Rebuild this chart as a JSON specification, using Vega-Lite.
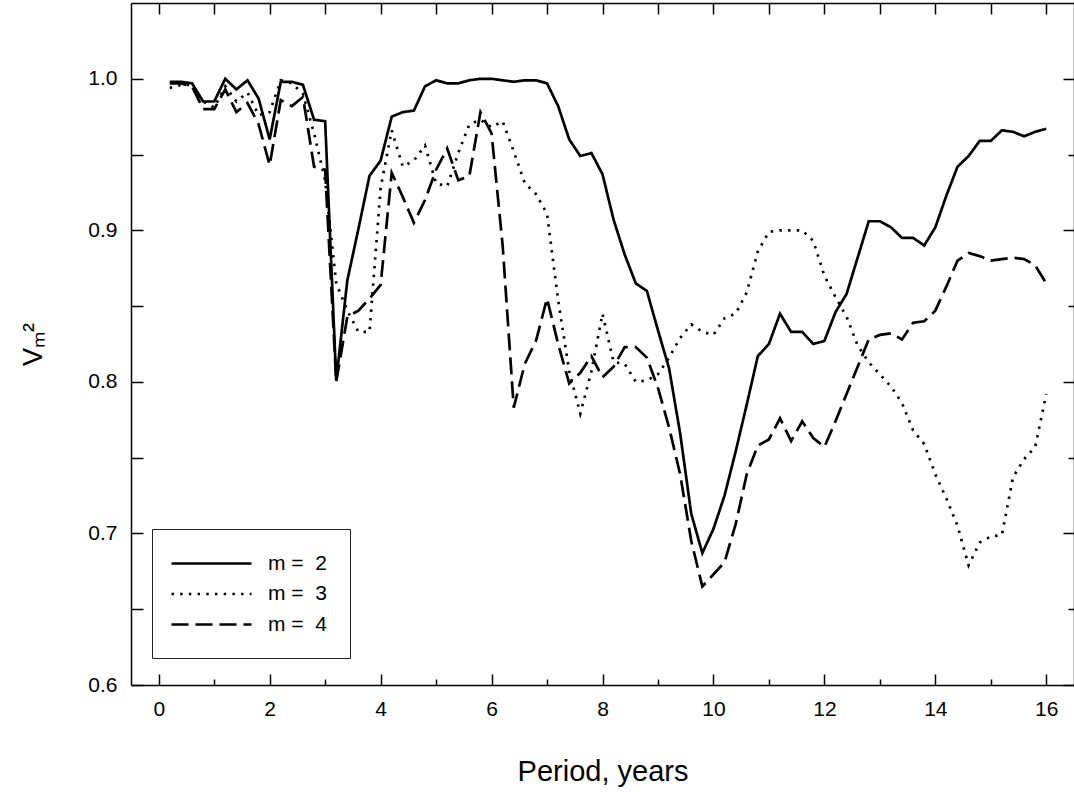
{
  "$schema": "https://vega.github.io/schema/vega-lite/v6.json",
  "autosize": {"type": "none"},
  "padding": {"left": 131, "top": 3, "right": 0, "bottom": 107},
  "width": 943,
  "height": 682,
  "background": "white",
  "config": {
    "view": {"stroke": null},
    "font": "Liberation Sans",
    "axis": {"grid": false, "domainColor": "black", "domainWidth": 1.5, "tickColor": "black", "tickWidth": 1.5, "labelColor": "black", "titleColor": "black", "labelFont": "Liberation Sans", "titleFont": "Liberation Sans", "titleFontWeight": "normal"}
  },
  "data": {"values": [
    {"p":0.2,"m2":0.998,"m3":0.994,"m4":0.997},
    {"p":0.4,"m2":0.998,"m3":0.996,"m4":0.997},
    {"p":0.6,"m2":0.997,"m3":0.996,"m4":0.995},
    {"p":0.8,"m2":0.985,"m3":0.985,"m4":0.980},
    {"p":1.0,"m2":0.985,"m3":0.981,"m4":0.980},
    {"p":1.2,"m2":1.000,"m3":0.995,"m4":0.993},
    {"p":1.4,"m2":0.993,"m3":0.985,"m4":0.978},
    {"p":1.6,"m2":0.999,"m3":0.991,"m4":0.984},
    {"p":1.8,"m2":0.987,"m3":0.976,"m4":0.970},
    {"p":2.0,"m2":0.960,"m3":0.978,"m4":0.943},
    {"p":2.2,"m2":0.998,"m3":0.999,"m4":0.986},
    {"p":2.4,"m2":0.998,"m3":0.997,"m4":0.982},
    {"p":2.6,"m2":0.996,"m3":0.990,"m4":0.988},
    {"p":2.8,"m2":0.973,"m3":0.964,"m4":0.942},
    {"p":3.0,"m2":0.972,"m3":0.933,"m4":0.940},
    {"p":3.2,"m2":0.801,"m3":0.865,"m4":0.800},
    {"p":3.4,"m2":0.867,"m3":0.847,"m4":0.843},
    {"p":3.6,"m2":0.901,"m3":0.833,"m4":0.847},
    {"p":3.8,"m2":0.936,"m3":0.833,"m4":0.855},
    {"p":4.0,"m2":0.946,"m3":0.928,"m4":0.864},
    {"p":4.2,"m2":0.975,"m3":0.966,"m4":0.938},
    {"p":4.4,"m2":0.978,"m3":0.942,"m4":0.922},
    {"p":4.6,"m2":0.979,"m3":0.946,"m4":0.905},
    {"p":4.8,"m2":0.995,"m3":0.956,"m4":0.920},
    {"p":5.0,"m2":0.999,"m3":0.931,"m4":0.940},
    {"p":5.2,"m2":0.997,"m3":0.929,"m4":0.954},
    {"p":5.4,"m2":0.997,"m3":0.951,"m4":0.933},
    {"p":5.6,"m2":0.999,"m3":0.970,"m4":0.936},
    {"p":5.8,"m2":1.000,"m3":0.973,"m4":0.978},
    {"p":6.0,"m2":1.000,"m3":0.968,"m4":0.964},
    {"p":6.2,"m2":0.999,"m3":0.972,"m4":0.890},
    {"p":6.4,"m2":0.998,"m3":0.952,"m4":0.783},
    {"p":6.6,"m2":0.999,"m3":0.931,"m4":0.812},
    {"p":6.8,"m2":0.999,"m3":0.924,"m4":0.827},
    {"p":7.0,"m2":0.997,"m3":0.911,"m4":0.855},
    {"p":7.2,"m2":0.982,"m3":0.854,"m4":0.825},
    {"p":7.4,"m2":0.960,"m3":0.807,"m4":0.799},
    {"p":7.6,"m2":0.949,"m3":0.779,"m4":0.806},
    {"p":7.8,"m2":0.951,"m3":0.807,"m4":0.817},
    {"p":8.0,"m2":0.937,"m3":0.845,"m4":0.803},
    {"p":8.2,"m2":0.907,"m3":0.813,"m4":0.810},
    {"p":8.4,"m2":0.884,"m3":0.812,"m4":0.823},
    {"p":8.6,"m2":0.865,"m3":0.800,"m4":0.823},
    {"p":8.8,"m2":0.860,"m3":0.801,"m4":0.816},
    {"p":9.0,"m2":0.834,"m3":0.805,"m4":0.796},
    {"p":9.2,"m2":0.809,"m3":0.816,"m4":0.770},
    {"p":9.4,"m2":0.766,"m3":0.829,"m4":0.739},
    {"p":9.6,"m2":0.713,"m3":0.838,"m4":0.695},
    {"p":9.8,"m2":0.687,"m3":0.833,"m4":0.665},
    {"p":10.0,"m2":0.703,"m3":0.831,"m4":0.673},
    {"p":10.2,"m2":0.725,"m3":0.842,"m4":0.681},
    {"p":10.4,"m2":0.754,"m3":0.845,"m4":0.706},
    {"p":10.6,"m2":0.785,"m3":0.859,"m4":0.739},
    {"p":10.8,"m2":0.817,"m3":0.886,"m4":0.758},
    {"p":11.0,"m2":0.825,"m3":0.899,"m4":0.762},
    {"p":11.2,"m2":0.845,"m3":0.900,"m4":0.776},
    {"p":11.4,"m2":0.833,"m3":0.900,"m4":0.761},
    {"p":11.6,"m2":0.833,"m3":0.900,"m4":0.774},
    {"p":11.8,"m2":0.825,"m3":0.893,"m4":0.763},
    {"p":12.0,"m2":0.827,"m3":0.870,"m4":0.757},
    {"p":12.2,"m2":0.846,"m3":0.856,"m4":0.774},
    {"p":12.4,"m2":0.858,"m3":0.843,"m4":0.792},
    {"p":12.6,"m2":0.882,"m3":0.824,"m4":0.810},
    {"p":12.8,"m2":0.906,"m3":0.813,"m4":0.828},
    {"p":13.0,"m2":0.906,"m3":0.805,"m4":0.831},
    {"p":13.2,"m2":0.902,"m3":0.797,"m4":0.832},
    {"p":13.4,"m2":0.895,"m3":0.786,"m4":0.828},
    {"p":13.6,"m2":0.895,"m3":0.768,"m4":0.839},
    {"p":13.8,"m2":0.890,"m3":0.759,"m4":0.840},
    {"p":14.0,"m2":0.902,"m3":0.739,"m4":0.847},
    {"p":14.2,"m2":0.923,"m3":0.723,"m4":0.863},
    {"p":14.4,"m2":0.942,"m3":0.705,"m4":0.880},
    {"p":14.6,"m2":0.949,"m3":0.679,"m4":0.885},
    {"p":14.8,"m2":0.959,"m3":0.694,"m4":0.883},
    {"p":15.0,"m2":0.959,"m3":0.698,"m4":0.880},
    {"p":15.2,"m2":0.966,"m3":0.699,"m4":0.881},
    {"p":15.4,"m2":0.965,"m3":0.737,"m4":0.882},
    {"p":15.6,"m2":0.962,"m3":0.749,"m4":0.881},
    {"p":15.8,"m2":0.965,"m3":0.757,"m4":0.877},
    {"p":16.0,"m2":0.967,"m3":0.792,"m4":0.865}
  ]},
  "transform": [{"fold": ["m2", "m3", "m4"], "as": ["series", "v"]}],
  "layer": [
    {
      "mark": {"type": "line", "color": "black", "strokeWidth": 2.7, "strokeCap": "butt", "strokeJoin": "miter"},
      "encoding": {
        "x": {"field": "p", "type": "quantitative", "scale": {"domain": [-0.5, 16.5], "nice": false, "zero": false},
          "axis": {"orient": "bottom", "values": [0,1,2,3,4,5,6,7,8,9,10,11,12,13,14,15,16], "labelExpr": "datum.value % 2 === 0 ? datum.label : ''",
            "tickSize": {"condition": {"test": "datum.value % 2 !== 0", "value": -6}, "value": -11},
            "labelFontSize": 21, "labelPadding": 24, "title": "Period, years", "titleFontSize": 29, "titlePadding": 38}},
        "y": {"field": "v", "type": "quantitative", "scale": {"domain": [0.6, 1.05], "nice": false, "zero": false},
          "axis": {"orient": "left", "values": [0.6,0.65,0.7,0.75,0.8,0.85,0.9,0.95,1.0], "labelExpr": "abs(datum.value*10 - round(datum.value*10)) < 0.001 ? format(datum.value, '.1f') : ''",
            "tickSize": -12, "labelFontSize": 21, "labelPadding": 26, "title": "Vₘ²", "titleFontSize": 27, "titlePadding": 40}},
        "strokeDash": {"field": "series", "type": "nominal",
          "scale": {"domain": ["m2", "m3", "m4"], "range": [[1, 0], [2.4, 6.3], [17, 7]]},
          "legend": {"title": null, "orient": "none", "legendX": 21, "legendY": 526, "strokeColor": "#222", "fillColor": "white",
            "padding": 23, "labelFontSize": 21, "labelFont": "Liberation Sans", "labelColor": "black", "labelExpr": "'m = \u00a0' + slice(datum.label, 1)",
            "symbolType": "M-1.5,0H6.5", "symbolSize": 400, "symbolStrokeWidth": 2.7, "symbolStrokeColor": "black", "labelOffset": 70, "rowPadding": 8.5}}
      }
    },
    {
      "mark": {"type": "line", "color": "black", "strokeOpacity": 0},
      "encoding": {
        "x": {"field": "p", "type": "quantitative", "scale": {"domain": [-0.5, 16.5], "nice": false, "zero": false},
          "axis": {"orient": "top", "values": [0,1,2,3,4,5,6,7,8,9,10,11,12,13,14,15,16], "labels": false, "title": null, "tickSize": -11}},
        "y": {"field": "v", "type": "quantitative", "scale": {"domain": [0.6, 1.05], "nice": false, "zero": false},
          "axis": {"orient": "right", "values": [0.6,0.65,0.7,0.75,0.8,0.85,0.9,0.95,1.0], "labels": false, "title": null,
            "tickSize": {"condition": {"test": "abs(datum.value*10 - round(datum.value*10)) > 0.001", "value": -6}, "value": -11}}},
        "detail": {"field": "series", "type": "nominal"}
      }
    }
  ],
  "resolve": {"axis": {"x": "independent", "y": "independent"}}
}
